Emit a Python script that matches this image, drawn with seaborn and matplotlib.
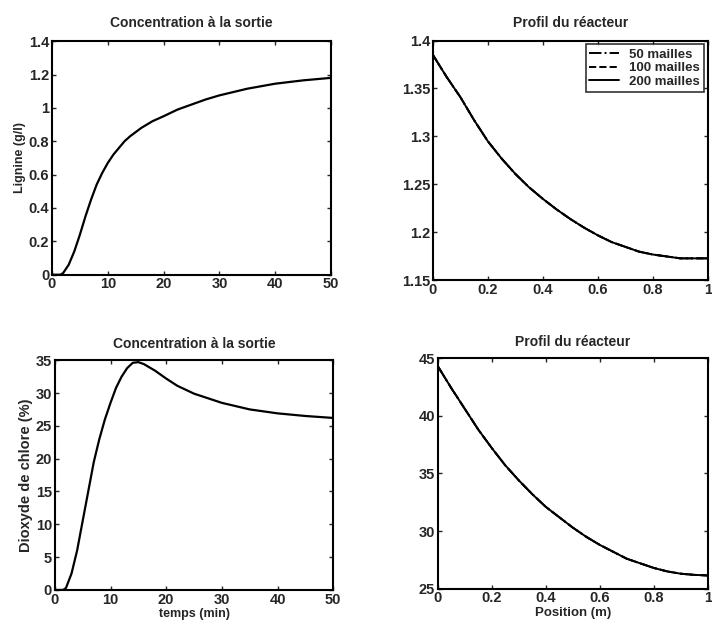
import matplotlib
matplotlib.use("Agg")
import matplotlib.pyplot as plt
import matplotlib.ticker as mticker
import pandas as pd
import seaborn as sns

# sortie du reacteur en fonction du temps
temps = [0, 1, 1.5, 2, 3, 4, 5, 6, 7, 8, 9, 10, 11, 12, 13, 14, 16, 18, 20, 22.5, 25,
         27.5, 30, 35, 40, 45, 50]
lignine_sortie = [0, 0, 0, 0.01, 0.06, 0.14, 0.24, 0.35, 0.45, 0.54, 0.61, 0.67, 0.72, 0.76,
                  0.80, 0.83, 0.88, 0.92, 0.95, 0.99, 1.02, 1.05, 1.075, 1.115, 1.145,
                  1.165, 1.18]

temps_clo2 = [0, 1, 1.5, 2, 3, 4, 5, 6, 7, 8, 9, 10, 11, 12, 13, 14, 15, 16, 18, 20, 22, 25,
              30, 35, 40, 45, 50]
clo2_sortie = [0, 0, 0, 0.3, 2.5, 6, 10.5, 15, 19.5, 23, 26, 28.5, 30.8, 32.5, 33.8, 34.6,
               34.7, 34.4, 33.4, 32.2, 31.1, 29.9, 28.5, 27.5, 26.9, 26.5, 26.2]

# profils le long du reacteur (les trois maillages se superposent)
position = [0, 0.05, 0.1, 0.15, 0.2, 0.25, 0.3, 0.35, 0.4, 0.45, 0.5, 0.55, 0.6, 0.65,
            0.7, 0.75, 0.8, 0.85, 0.9, 0.95, 1.0]
lignine_profil = [1.385, 1.362, 1.341, 1.317, 1.295, 1.277, 1.261, 1.247, 1.235, 1.224,
                  1.214, 1.205, 1.197, 1.190, 1.185, 1.180, 1.177, 1.175, 1.173, 1.173, 1.173]
clo2_profil = [44.3, 42.4, 40.6, 38.8, 37.2, 35.7, 34.4, 33.2, 32.1, 31.2, 30.3, 29.5,
               28.8, 28.2, 27.6, 27.2, 26.8, 26.5, 26.3, 26.2, 26.15]

maillages = ["50 mailles", "100 mailles", "200 mailles"]
styles = ["-.", "--", "-"]

sns.set_style("ticks")
plt.rcParams["font.family"] = ["Liberation Sans", "DejaVu Sans"]
plt.rcParams["font.weight"] = "bold"
plt.rcParams["axes.labelweight"] = "bold"
plt.rcParams["axes.titleweight"] = "bold"
plt.rcParams["xtick.direction"] = "in"
plt.rcParams["ytick.direction"] = "in"
plt.rcParams["xtick.top"] = True
plt.rcParams["ytick.right"] = True

fig = plt.figure(figsize=(7.12, 6.33), dpi=100)
ax_tl = fig.add_axes([0.073, 0.566, 0.392, 0.369])
ax_tr = fig.add_axes([0.608, 0.557, 0.386, 0.379])
ax_bl = fig.add_axes([0.077, 0.068, 0.391, 0.363])
ax_br = fig.add_axes([0.615, 0.070, 0.379, 0.364])

fmt = mticker.FormatStrFormatter("%g")

sns.lineplot(x=temps, y=lignine_sortie, ax=ax_tl, color="black", linewidth=1.6)
ax_tl.set(xlim=(0, 50), ylim=(0, 1.4))
ax_tl.set_title("Concentration à la sortie", pad=10)
ax_tl.set_yticks([0, 0.2, 0.4, 0.6, 0.8, 1, 1.2, 1.4])
ax_tl.set_ylabel("Lignine (g/l)", fontsize=9)

sns.lineplot(x=temps_clo2, y=clo2_sortie, ax=ax_bl, color="black", linewidth=1.6)
ax_bl.set(xlim=(0, 50), ylim=(0, 35))
ax_bl.set_title("Concentration à la sortie", pad=9)
ax_bl.set_yticks(range(0, 36, 5))
ax_bl.set_ylabel("Dioxyde de chlore (%)", fontsize=10.5)
ax_bl.set_xlabel("temps (min)", fontsize=9)

for nom, ls in zip(maillages, styles):
    sns.lineplot(x=position, y=lignine_profil, ax=ax_tr, color="black",
                 linewidth=1.4, linestyle=ls, label=nom)
    sns.lineplot(x=position, y=clo2_profil, ax=ax_br, color="black",
                 linewidth=1.4, linestyle=ls)
ax_tr.set(xlim=(0, 1), ylim=(1.15, 1.4))
ax_tr.set_title("Profil du réacteur", pad=10)
ax_tr.set_yticks([1.15, 1.2, 1.25, 1.3, 1.35, 1.4])
leg = ax_tr.legend(loc="upper right", frameon=True, fancybox=False, fontsize=9.5,
                   edgecolor="black", borderaxespad=0.3, handlelength=2.2,
                   labelspacing=0.1, borderpad=0.3)
leg.get_frame().set_linewidth(1.2)

ax_br.set(xlim=(0, 1), ylim=(25, 45))
ax_br.set_title("Profil du réacteur", pad=9)
ax_br.set_yticks([25, 30, 35, 40, 45])
ax_br.set_xlabel("Position (m)", fontsize=9.5)

for ax in [ax_tl, ax_tr, ax_bl, ax_br]:
    ax.xaxis.set_major_formatter(fmt)
    ax.yaxis.set_major_formatter(fmt)
    ax.title.set_fontsize(10)
    ax.xaxis.labelpad = 1
    ax.yaxis.labelpad = 2
    ax.tick_params(labelsize=10.5, length=3, width=1, pad=2)
    for sp in ax.spines.values():
        sp.set_linewidth(1.5)
        sp.set_color("black")

fig.savefig("out.png", dpi=100)
